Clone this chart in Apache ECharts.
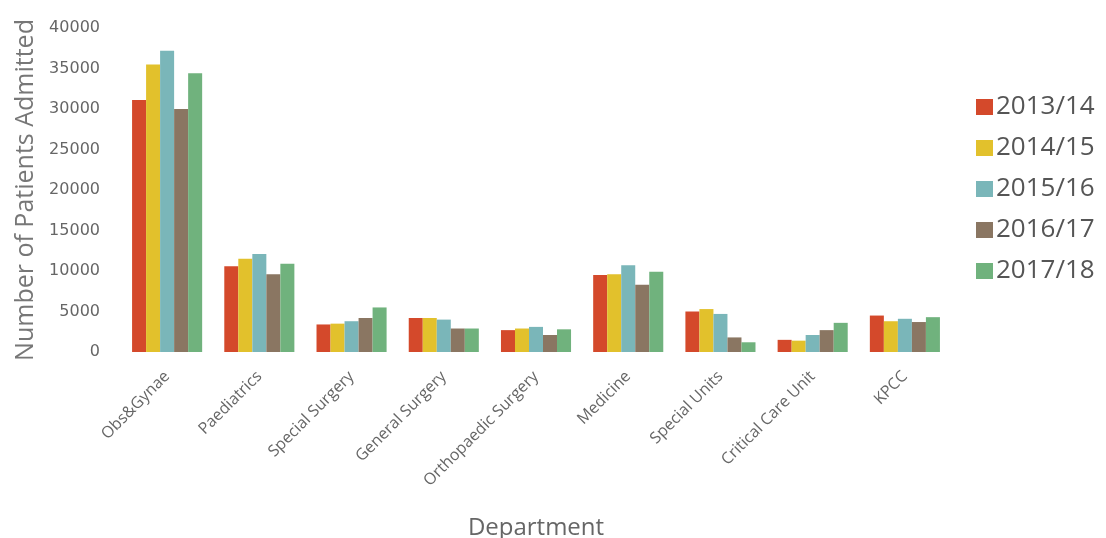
<!DOCTYPE html>
<html>
<head>
<meta charset="utf-8">
<script src="https://cdn.jsdelivr.net/npm/echarts@6/dist/echarts.min.js"></script>
<style>
  html, body { margin: 0; padding: 0; background: #fff; }
  #chart { width: 1106px; height: 538px; }
</style>
</head>
<body>
<div id="chart"></div>
<script>
// Patients admitted per department, by financial year
const departments = ['Obs&Gynae', 'Paediatrics', 'Special Surgery', 'General Surgery',
  'Orthopaedic Surgery', 'Medicine', 'Special Units', 'Critical Care Unit', 'KPCC'];
const years = ['2013/14', '2014/15', '2015/16', '2016/17', '2017/18'];
const admissions2013 = [31100, 10600, 3400, 4200, 2700, 9500, 5000, 1500, 4500];
const admissions2014 = [35500, 11500, 3500, 4200, 2900, 9600, 5300, 1400, 3800];
const admissions2015 = [37200, 12100, 3800, 4000, 3100, 10700, 4700, 2100, 4100];
const admissions2016 = [30000, 9600, 4200, 2900, 2100, 8300, 1800, 2700, 3700];
const admissions2017 = [34400, 10900, 5500, 2900, 2800, 9900, 1200, 3600, 4300];
const yearColors = ['#d4492b', '#e2c12c', '#7ab6b9', '#8a7662', '#70b27d'];

const seriesValues = [admissions2013, admissions2014, admissions2015, admissions2016, admissions2017];

const chart = echarts.init(document.getElementById('chart'));
chart.setOption({
  animation: false,
  backgroundColor: '#ffffff',
  color: yearColors,
  grid: { left: 121, right: 155, top: 28, bottom: 186, outerBoundsMode: 'none', containLabel: false },
  legend: {
    orient: 'vertical',
    left: 971,
    top: 89,
    itemWidth: 17,
    itemHeight: 16,
    itemGap: 15,
    icon: 'rect',
    textStyle: { fontFamily: 'Open Sans', fontSize: 26, color: '#555', lineHeight: 26, padding: [0, 0, 0, -2] },
    data: years
  },
  xAxis: {
    type: 'category',
    data: departments,
    name: 'Department',
    nameLocation: 'middle',
    nameGap: 164,
    nameTextStyle: { fontFamily: 'Open Sans', fontSize: 24, color: '#666' },
    axisLine: { show: false },
    axisTick: { show: false },
    axisLabel: {
      rotate: 45,
      interval: 0,
      margin: 22,
      fontFamily: 'Open Sans',
      fontSize: 16,
      color: '#666'
    }
  },
  yAxis: {
    type: 'value',
    min: 0,
    max: 40000,
    interval: 5000,
    name: 'Number of Patients Admitted',
    nameLocation: 'middle',
    nameGap: 80,
    nameTextStyle: { fontFamily: 'Open Sans', fontSize: 25, color: '#777', padding: [0, 0, 0, 0] },
    splitLine: { show: false },
    axisLine: { show: false },
    axisTick: { show: false },
    axisLabel: {
      fontFamily: 'DejaVu Sans',
      fontSize: 16,
      color: '#666',
      margin: 21,
      formatter: v => String(v)
    }
  },
  series: years.map((y, i) => ({
    name: y,
    type: 'bar',
    data: seriesValues[i],
    barGap: '0%',
    barCategoryGap: '24%'
  }))
});
</script>
</body>
</html>
